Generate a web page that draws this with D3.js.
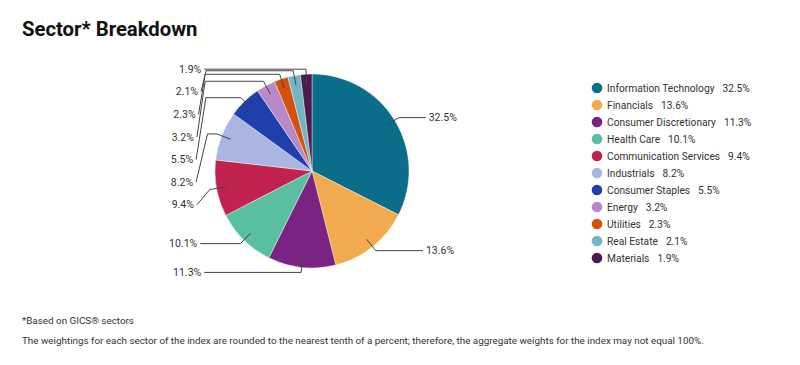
<!DOCTYPE html>
<html>
<head>
<meta charset="utf-8">
<script src="https://cdn.jsdelivr.net/npm/d3@7"></script>
<style>
  html, body { margin: 0; padding: 0; background: #fff; }
  svg { display: block; font-family: Roboto, "Noto Sans", sans-serif; }
</style>
</head>
<body>
<svg id="chart" width="800" height="365"></svg>
<script>
const title = "Sector* Breakdown";
const sectors = ["Information Technology", "Financials", "Consumer Discretionary", "Health Care",
  "Communication Services", "Industrials", "Consumer Staples", "Energy", "Utilities",
  "Real Estate", "Materials"];
const weights = [32.5, 13.6, 11.3, 10.1, 9.4, 8.2, 5.5, 3.2, 2.3, 2.1, 1.9];
const colors = ["#0a6e8a", "#f2aa4e", "#7a2382", "#58bfa1", "#c1224f", "#aab6e1",
  "#1f3fad", "#b789c6", "#d4500f", "#74b5c4", "#4b1a4e"];
const footnotes = ["*Based on GICS\u00AE sectors",
  "The weightings for each sector of the index are rounded to the nearest tenth of a percent; therefore, the aggregate weights for the index may not equal 100%."];

const fmt = v => d3.format(".1f")(v) + "%";
const svg = d3.select("#chart");

// Title
svg.append("text").attr("x", 22).attr("y", 36)
  .attr("font-size", 20.3).attr("font-weight", 700).attr("fill", "#111")
  .text(title);

// Pie
const cx = 312, cy = 171, r = 97;
const data = sectors.map((s, i) => ({ name: s, value: weights[i], color: colors[i] }));
const pie = d3.pie().value(d => d.value).sort(null).startAngle(0).endAngle(2 * Math.PI);
const arcs = pie(data);
const arc = d3.arc().innerRadius(0).outerRadius(r);

const g = svg.append("g").attr("transform", `translate(${cx},${cy})`);
g.selectAll("path.slice").data(arcs).join("path")
  .attr("class", "slice")
  .attr("d", arc)
  .attr("fill", d => d.data.color)
  .attr("stroke", "#fff").attr("stroke-width", 0.4);

// Labels with leader lines
const pt = (a, rad) => [Math.sin(a) * rad, -Math.cos(a) * rad];
const items = arcs.map(d => {
  const a = (d.startAngle + d.endAngle) / 2;
  const inner = pt(a, r * 0.9);
  const elbow = pt(a, r + 5);
  return { d, a, inner, elbow, side: Math.sin(a) > 0 ? 1 : -1, y: elbow[1] };
});
const spacing = 22.6;
[1, -1].forEach(side => {
  const list = items.filter(it => it.side === side).sort((p, q) => p.elbow[1] - q.elbow[1]);
  let prev = -Infinity;
  list.forEach(it => {
    it.y = Math.max(it.elbow[1], prev + spacing);
    prev = it.y;
  });
  let k = 0;
  list.forEach(it => {
    const dy = it.y;
    it.anchorX = side > 0 ? (116 - 0.0008 * dy * dy) : (-116 + 0.0008 * dy * dy);
    if (Math.abs(it.y - it.elbow[1]) > 1) {
      let bx = it.anchorX - side * (5 + 1.6 * k);
      if (side < 0) bx = Math.min(bx, it.elbow[0] - 1);
      else bx = Math.max(bx, it.elbow[0] + 1);
      it.breakX = bx;
      k++;
    }
  });
});

const line = d3.line();
const lg = g.append("g");
items.forEach(it => {
  const pts = [it.inner, it.elbow];
  if (it.breakX !== undefined) pts.push([it.breakX, it.elbow[1]]);
  pts.push([it.anchorX, it.y]);
  lg.append("path").attr("d", line(pts))
    .attr("fill", "none").attr("stroke", "#444").attr("stroke-width", 1);
  lg.append("text")
    .attr("x", it.anchorX + it.side * 3)
    .attr("y", it.y)
    .attr("dy", "0.35em")
    .attr("text-anchor", it.side > 0 ? "start" : "end")
    .attr("font-size", 10.5).attr("fill", "#333")
    .text(fmt(it.d.data.value));
});

// Legend
const legend = svg.append("g").attr("transform", "translate(597,88)");
const rows = legend.selectAll("g").data(data).join("g")
  .attr("transform", (d, i) => `translate(0,${i * 17})`);
rows.append("circle").attr("r", 5.3).attr("fill", d => d.color);
const lt = rows.append("text").attr("x", 10).attr("dy", "0.35em")
  .attr("font-size", 10.2).attr("fill", "#333");
lt.append("tspan").text(d => d.name);
lt.append("tspan").attr("dx", 8).text(d => fmt(d.value));

// Footnotes
svg.selectAll("text.foot").data(footnotes).join("text")
  .attr("class", "foot")
  .attr("x", 22).attr("y", (d, i) => 324 + i * 20)
  .attr("font-size", 9.85).attr("fill", "#333")
  .text(d => d);
</script>
</body>
</html>
